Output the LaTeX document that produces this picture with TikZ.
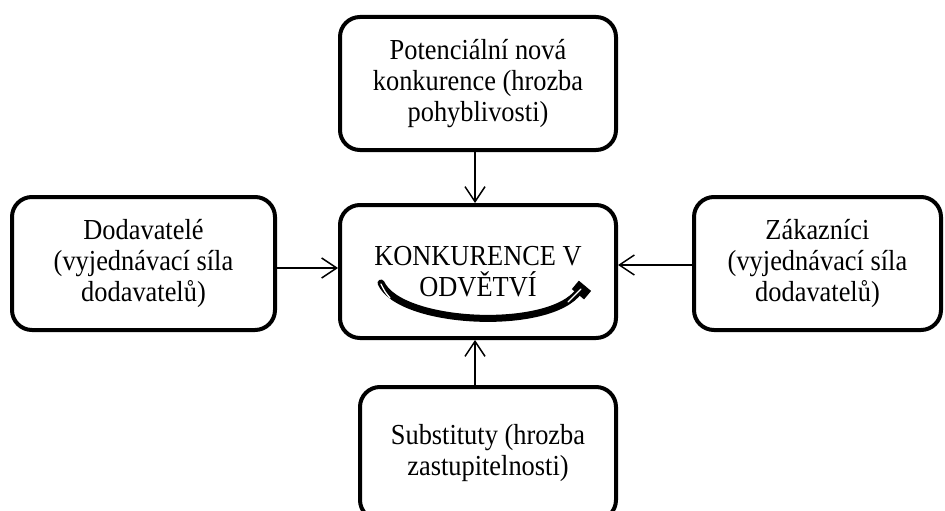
\documentclass[tikz,border=0pt]{standalone}
\usepackage{fontspec}
\setmainfont{Liberation Serif}[FakeStretch=0.91]
\usetikzlibrary{arrows.meta}
\begin{document}
\begin{tikzpicture}[x=1pt,y=-1pt,
  box/.style={draw=black, line width=4pt, rounded corners=20pt, align=center,
    font=\fontsize{29}{31}\selectfont, inner sep=0pt},
  conn/.style={line width=1.5pt, -{Straight Barb[length=15pt,width=20pt,line width=1.5pt]}}]
\useasboundingbox (0,0) rectangle (945,511);
\fill[white] (0,0) rectangle (945,511);
\node[box, minimum width=276pt, minimum height=133pt] (top) at (478,83.5)
  {Potenciální nová\\konkurence (hrozba\\pohyblivosti)};
\node[box, minimum width=276pt, minimum height=133pt] (center) at (478,271.5)
  {KONKURENCE V\\ODVĚTVÍ};
\node[box, minimum width=263pt, minimum height=133pt] (left) at (143.5,263.5)
  {Dodavatelé\\(vyjednávací síla\\dodavatelů)};
\node[box, minimum width=247pt, minimum height=133pt] (right) at (817.5,263.5)
  {Zákazníci\\(vyjednávací síla\\dodavatelů)};
\node[box, minimum width=256pt, minimum height=133pt] (bottom) at (488,453.5)
  {Substituty (hrozba\\zastupitelnosti)};
\draw[conn] (top.south -| 475,0) -- (center.north -| 475,0);
\draw[conn] (bottom.north -| 475,0) -- (center.south -| 475,0);
\draw[conn] (left.east |- 0,268) -- (center.west |- 0,268);
\draw[conn] (right.west |- 0,265) -- (center.east |- 0,265);
% curved arrow in the centre box
\draw[line width=7pt, line cap=round] (381,283) .. controls (400,325) and (550,332) .. (579,291);
\fill[rotate around={-40:(581,289)}] (574,284) rectangle (590,295);
\draw[white, line width=1.3pt, line cap=round] (381,284) .. controls (385,292) .. (390,298);
\draw[white, line width=1.3pt, line cap=round] (568,302) -- (581,289);
\end{tikzpicture}
\end{document}
